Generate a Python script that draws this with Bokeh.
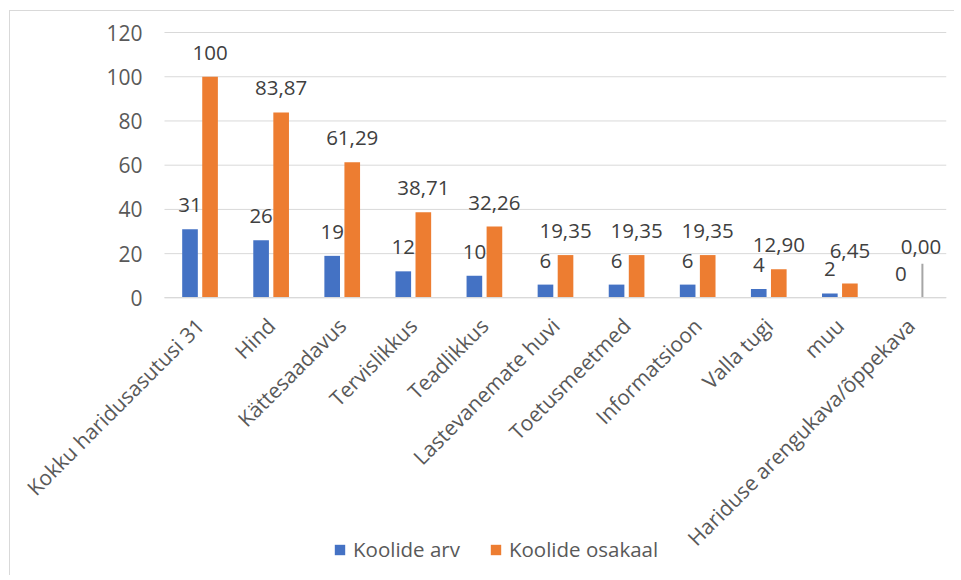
import math
from bokeh.plotting import figure
from bokeh.models import (ColumnDataSource, Range1d, Legend, LegendItem, FixedTicker)
from bokeh.core.properties import value
from bokeh.embed import file_html
from bokeh.resources import INLINE

categories = ["Kokku haridusasutusi 31", "Hind", "Kättesaadavus", "Tervislikkus",
              "Teadlikkus", "Lastevanemate huvi", "Toetusmeetmed", "Informatsioon",
              "Valla tugi", "muu", "Hariduse arengukava/õppekava"]
koolide_arv = [31, 26, 19, 12, 10, 6, 6, 6, 4, 2, 0]
koolide_osakaal = [100, 83.87, 61.29, 38.71, 32.26, 19.35, 19.35, 19.35, 12.90, 6.45, 0.00]
y_ticks = [0, 20, 40, 60, 80, 100, 120]

FONT = "Open Sans"
BLUE = "#4472C4"
ORANGE = "#ED7D31"
GRID = "#d9d9d9"

n = len(categories)
x_pos = list(range(n))                      # category slots 0..n-1
arv_labels = [str(v) for v in koolide_arv]
osakaal_labels = ["100" if v == 100 else f"{v:.2f}".replace(".", ",") for v in koolide_osakaal]
# extra upward nudge (px) of a few manually moved data labels
osakaal_nudge = [0, 0, 0, 0, 0, 0, 0, 0, 0, 9, 27]

OFF = 0.141
W = 0.22
src = ColumnDataSource(dict(
    x=x_pos,
    x_arv=[x - OFF for x in x_pos],
    x_osa=[x + OFF for x in x_pos],
    arv=koolide_arv,
    osa=koolide_osakaal,
    arv_lab=arv_labels,
    osa_lab=osakaal_labels,
    osa_off=[-24 - k for k in osakaal_nudge],
))

# The frame spans the whole canvas so that the rotated category labels, the
# top tick label and the legend sit inside it; the axes are pinned to the
# category band edge / zero line.
p = figure(x_range=Range1d(-2.666, n - 0.5), y_range=Range1d(-126, 129.5),
           width=945, height=565, output_backend="svg", toolbar_location=None,
           min_border_left=0, min_border_right=9, min_border_top=0, min_border_bottom=0)

# horizontal grid lines across the category band only
p.segment(x0=-0.5, x1=n - 0.5, y0=y_ticks, y1=y_ticks, line_color=GRID, line_width=1)

r_arv = p.vbar(x="x_arv", top="arv", width=W, source=src, fill_color=BLUE, line_color=None)
r_osa = p.vbar(x="x_osa", top="osa", width=W, source=src, fill_color=ORANGE, line_color=None)

p.text(x="x_arv", y="arv", text="arv_lab", source=src,
       y_offset=-24, text_align="center", text_baseline="middle",
       text_font=value(FONT), text_font_size="20.5px", text_color="#404040")
p.text(x="x_osa", y="osa", text="osa_lab", source=src,
       y_offset="osa_off", text_align="center", text_baseline="middle",
       text_font=value(FONT), text_font_size="20.5px", text_color="#404040")

# leader line of the last (moved) label
p.segment(x0=[x_pos[-1] + OFF + 0.02], y0=[koolide_osakaal[-1]],
          x1=[x_pos[-1] + OFF + 0.02], y1=[koolide_osakaal[-1] + 15.4],
          line_color="#a6a6a6", line_width=2)

p.xgrid.grid_line_color = None
p.ygrid.grid_line_color = None
p.outline_line_color = None

p.yaxis.fixed_location = -0.5
p.yaxis.ticker = FixedTicker(ticks=y_ticks)
p.yaxis.axis_line_color = None
p.yaxis.major_tick_line_color = None
p.yaxis.minor_tick_line_color = None
p.yaxis.major_tick_out = 0
p.yaxis.major_tick_in = 0
p.yaxis.major_label_standoff = 22
p.yaxis.major_label_text_font = FONT
p.yaxis.major_label_text_font_size = "21px"
p.yaxis.major_label_text_color = "#595959"

p.xaxis.fixed_location = 0
p.xaxis.bounds = (-0.5, n - 0.5)
p.xaxis.ticker = FixedTicker(ticks=x_pos)
p.xaxis.major_label_overrides = {x: c for x, c in zip(x_pos, categories)}
p.xaxis.axis_line_color = GRID
p.xaxis.major_tick_line_color = None
p.xaxis.minor_tick_line_color = None
p.xaxis.major_tick_out = 0
p.xaxis.major_tick_in = 0
p.xaxis.major_label_orientation = math.pi / 4
p.xaxis.major_label_standoff = 24
p.xaxis.major_label_text_font = FONT
p.xaxis.major_label_text_font_size = "21px"
p.xaxis.major_label_text_color = "#595959"

legend = Legend(items=[LegendItem(label="Koolide arv", renderers=[r_arv]),
                       LegendItem(label="Koolide osakaal", renderers=[r_osa])],
                location=(323, 13), orientation="horizontal",
                padding=0, margin=0, spacing=29, label_standoff=7,
                glyph_width=13, glyph_height=13,
                label_text_font=FONT, label_text_font_size="20.5px",
                label_text_color="#595959",
                border_line_color=None, background_fill_alpha=0)
p.add_layout(legend)

p.styles = {"margin-left": "9px", "margin-top": "10px",
            "border-left": "1px solid #d9d9d9", "border-top": "1px solid #d9d9d9"}

open("out.html", "w").write(file_html(p, INLINE))
